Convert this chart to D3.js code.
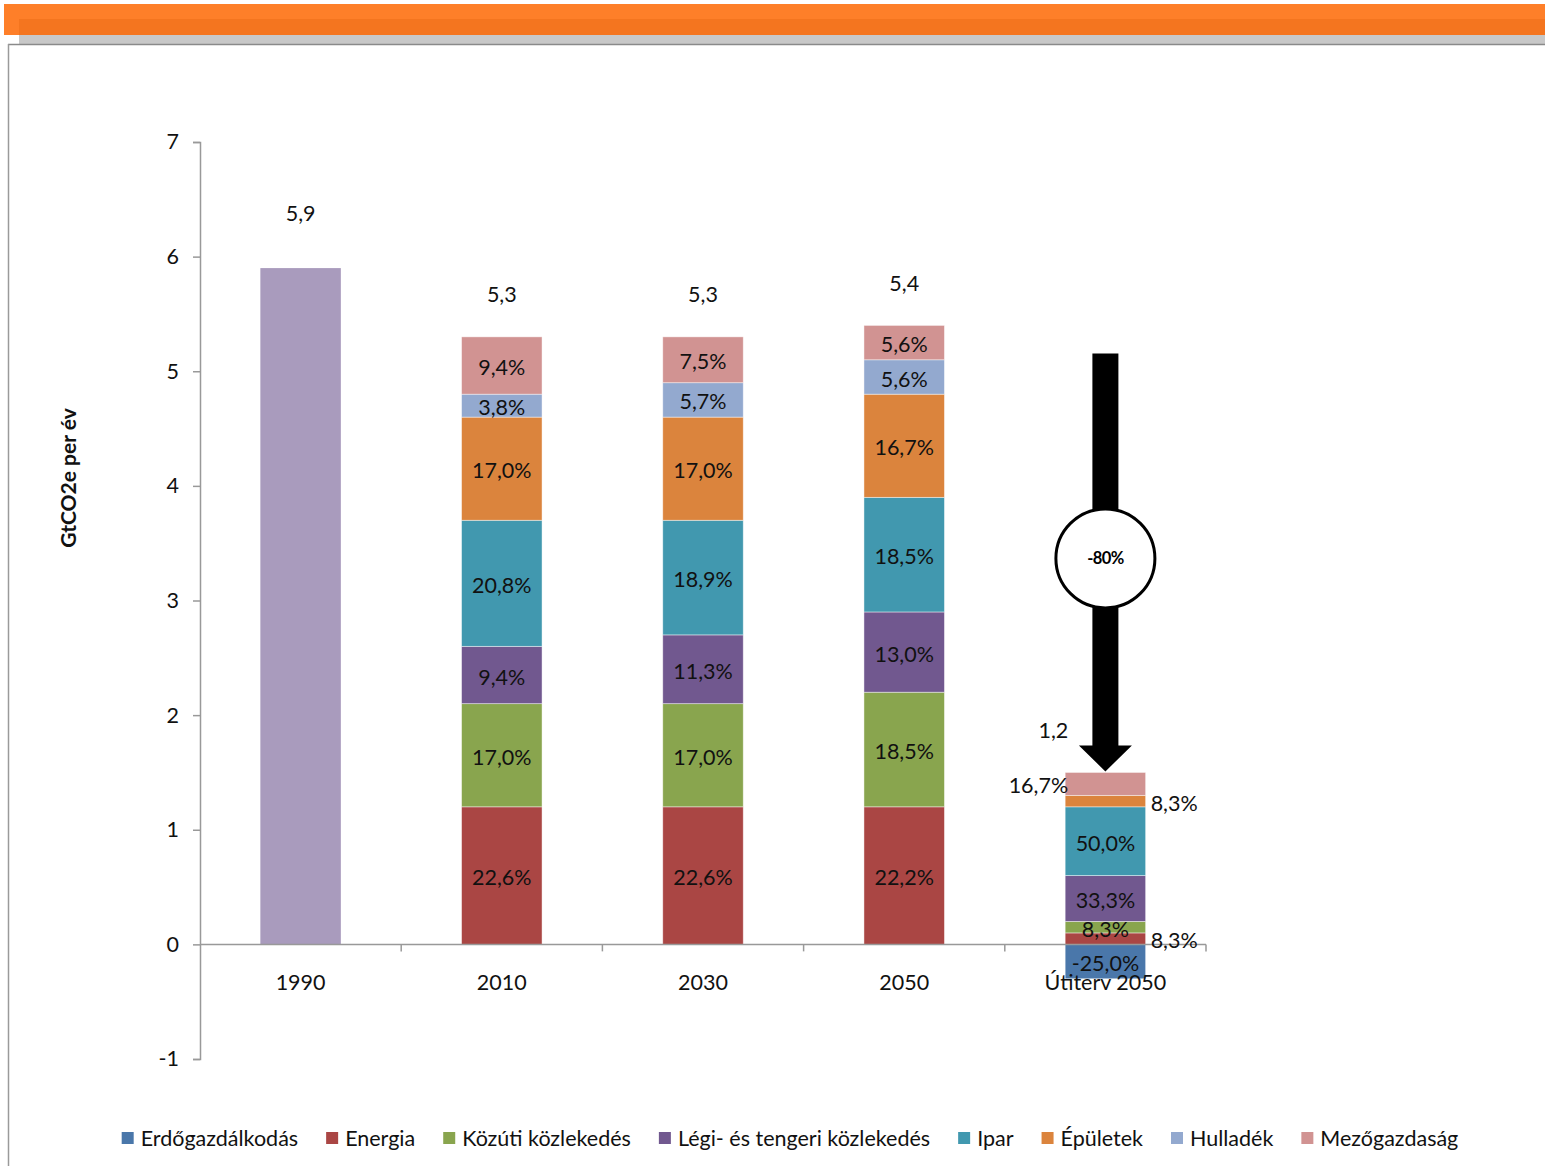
<!DOCTYPE html>
<html>
<head>
<meta charset="utf-8">
<script src="https://cdn.jsdelivr.net/npm/d3@7"></script>
<style>
  html, body { margin: 0; padding: 0; background: #fff; }
  svg { display: block; font-family: Lato, "Open Sans", sans-serif; }
</style>
</head>
<body>
<svg id="chart" width="1545" height="1166"></svg>
<script>
// Categories along the x axis
const categories = ["1990", "2010", "2030", "2050", "Útiterv 2050"];

// Emission sectors (stack order, bottom to top)
const sectors = ["Erdőgazdálkodás", "Energia", "Közúti közlekedés", "Légi- és tengeri közlekedés",
                 "Ipar", "Épületek", "Hulladék", "Mezőgazdaság"];
const sectorColors = ["#4A77AA", "#AA4644", "#89A54E", "#71588F", "#4198AF", "#DB843D", "#93A9CF", "#D19392"];

// Sector values, GtCO2e per year (one entry per category; 1990 has only a total)
const erdogazdalkodas = [0, 0, 0, 0, -0.3];
const energia         = [0, 1.2, 1.2, 1.2, 0.1];
const kozuti          = [0, 0.9, 0.9, 1.0, 0.1];
const legiTengeri     = [0, 0.5, 0.6, 0.7, 0.4];
const ipar            = [0, 1.1, 1.0, 1.0, 0.6];
const epuletek        = [0, 0.9, 0.9, 0.9, 0.1];
const hulladek        = [0, 0.2, 0.3, 0.3, 0];
const mezogazdasag    = [0, 0.5, 0.4, 0.3, 0.2];
const series = [erdogazdalkodas, energia, kozuti, legiTengeri, ipar, epuletek, hulladek, mezogazdasag];

// 1990 baseline total (unsplit)
const total1990 = [5.9, 0, 0, 0, 0];
const color1990 = "#A99BBD";

const yTicks = [-1, 0, 1, 2, 3, 4, 5, 6, 7];
const reductionLabel = "-80%";
const yTitle = "GtCO2e per év";

const svg = d3.select("#chart");
const fmt1 = v => d3.format(".1f")(v).replace(".", ",").replace("\u2212", "-");
const fontMain = "Lato, 'Open Sans', sans-serif";
const fontSize = 21.5;
const axisColor = "#999";
const textColor = "#111";

// ---- page frame ----
svg.append("rect").attr("x", 4).attr("y", 4).attr("width", 1541).attr("height", 31).attr("fill", "#FE7F29");
svg.append("rect").attr("x", 19).attr("y", 19).attr("width", 1526).attr("height", 16).attr("fill", "#F4751F");
svg.append("rect").attr("x", 19).attr("y", 35).attr("width", 1526).attr("height", 9).attr("fill", "#C8C8C8");
svg.append("line").attr("x1", 8).attr("x2", 1545).attr("y1", 44.5).attr("y2", 44.5).attr("stroke", "#8a8a8a").attr("stroke-width", 1.5);
svg.append("line").attr("x1", 8.5).attr("x2", 8.5).attr("y1", 44).attr("y2", 1166).attr("stroke", "#9a9a9a").attr("stroke-width", 1.5);

// ---- scales ----
const x = d3.scaleBand().domain(categories).range([200, 1206]).padding(0);
const barW = x.bandwidth() / 2.5;
const cx = c => x(c) + x.bandwidth() / 2;
const y = d3.scaleLinear().domain([-1, 7]).range([1059, 142]);

// ---- y axis ----
const yAxis = svg.append("g").attr("transform", "translate(200,0)")
  .call(d3.axisLeft(y).tickValues(yTicks).tickSize(7).tickPadding(14).tickFormat(d => String(d)));
yAxis.select(".domain").attr("stroke", axisColor).attr("stroke-width", 1.5);
yAxis.selectAll(".tick line").attr("stroke", axisColor).attr("stroke-width", 1.5);
yAxis.selectAll(".tick text").attr("font-size", fontSize).attr("fill", textColor).attr("font-family", fontMain);

svg.append("text")
  .attr("transform", `translate(76,478) rotate(-90)`)
  .attr("text-anchor", "middle")
  .attr("font-size", 21).attr("font-weight", "bold").attr("fill", textColor)
  .attr("font-family", fontMain)
  .text(yTitle);

// ---- stacked data ----
const rows = categories.map((c, i) => {
  const r = { category: c };
  sectors.forEach((s, k) => { r[s] = series[k][i]; });
  return r;
});
const stacked = d3.stack().keys(sectors).offset(d3.stackOffsetDiverging)(rows);

// 1990 bar
svg.append("g").selectAll("rect").data(categories.filter((c, i) => total1990[i] > 0))
  .join("rect")
  .attr("x", c => cx(c) - barW / 2)
  .attr("width", barW)
  .attr("y", c => y(total1990[categories.indexOf(c)]))
  .attr("height", c => y(0) - y(total1990[categories.indexOf(c)]))
  .attr("fill", color1990);

// stacked segments
const segG = svg.append("g");
stacked.forEach((layer, k) => {
  segG.append("g").selectAll("rect")
    .data(layer.filter(d => d[1] - d[0] !== 0))
    .join("rect")
    .attr("x", d => cx(d.data.category) - barW / 2)
    .attr("width", barW)
    .attr("y", d => y(Math.max(d[0], d[1])))
    .attr("height", d => Math.abs(y(d[0]) - y(d[1])))
    .attr("fill", sectorColors[k])
    .attr("stroke", "rgba(255,255,255,0.55)")
    .attr("stroke-width", 0.8);
});

// ---- x axis ----
const xAxisG = svg.append("g");
xAxisG.append("line").attr("x1", 200).attr("x2", 1206).attr("y1", y(0)).attr("y2", y(0))
  .attr("stroke", axisColor).attr("stroke-width", 1.5);
xAxisG.selectAll("line.tick").data(categories.slice(1).concat(["__end"]))
  .join("line").attr("class", "tick")
  .attr("x1", c => c === "__end" ? 1206 : x(c)).attr("x2", c => c === "__end" ? 1206 : x(c))
  .attr("y1", y(0)).attr("y2", y(0) + 7)
  .attr("stroke", axisColor).attr("stroke-width", 1.5);

// x category labels
svg.append("g").selectAll("text").data(categories).join("text")
  .attr("x", c => cx(c)).attr("y", y(0) + 38).attr("dy", "0.35em")
  .attr("text-anchor", "middle")
  .attr("font-family", fontMain).attr("font-size", fontSize).attr("fill", textColor)
  .text(c => c);

// ---- percentage labels ----
const totals = categories.map((c, i) => d3.sum(series, s => s[i]));
// small segments of the last bar are labelled beside the bar
const sideLabels = { "Mezőgazdaság": "left", "Épületek": "right", "Energia": "right" };
const labG = svg.append("g").attr("font-family", fontMain).attr("font-size", fontSize).attr("fill", textColor);
stacked.forEach((layer, k) => {
  layer.forEach((d, i) => {
    const v = d[1] - d[0];
    if (v === 0) return;
    const value = series[k][i];
    const pct = fmt1(value / totals[i] * 100) + "%";
    const midY = y((d[0] + d[1]) / 2);
    const c = d.data.category;
    let tx = cx(c), anchor = "middle";
    const side = (i === categories.length - 1) ? sideLabels[sectors[k]] : undefined;
    if (side === "left") { tx = cx(c) - barW / 2 + 3; anchor = "end"; }
    if (side === "right") { tx = cx(c) + barW / 2 + 5; anchor = "start"; }
    labG.append("text")
      .attr("x", tx).attr("y", midY + 2).attr("dy", "0.35em")
      .attr("text-anchor", anchor)
      .text(pct);
  });
});

// ---- total labels ----
const totalG = svg.append("g").attr("font-family", fontMain).attr("font-size", fontSize).attr("fill", textColor);
categories.forEach((c, i) => {
  const tot = total1990[i] > 0 ? total1990[i] : totals[i];
  const top = total1990[i] > 0 ? total1990[i] : d3.sum(series, s => Math.max(0, s[i]));
  const last = i === categories.length - 1;
  const off = total1990[i] > 0 ? 55 : 42;
  totalG.append("text")
    .attr("x", last ? cx(c) - 52 : cx(c))
    .attr("y", y(top) - off).attr("dy", "0.35em")
    .attr("text-anchor", "middle")
    .text(fmt1(tot));
});

// ---- reduction arrow ----
const lastCat = categories[categories.length - 1];
const ax = cx(lastCat);
const lastTop = d3.sum(series, s => Math.max(0, s[categories.length - 1]));
const tipY = y(lastTop) - 1;
const shaftTop = y(5.4) + 28;
const headH = 26, headHalf = 26.5, shaftHalf = 13;
svg.append("path")
  .attr("d", `M${ax - shaftHalf},${shaftTop} L${ax + shaftHalf},${shaftTop} L${ax + shaftHalf},${tipY - headH}
              L${ax + headHalf},${tipY - headH} L${ax},${tipY} L${ax - headHalf},${tipY - headH}
              L${ax - shaftHalf},${tipY - headH} Z`)
  .attr("fill", "#000");
const circY = (shaftTop + tipY) / 2 - 4;
svg.append("circle").attr("cx", ax).attr("cy", circY).attr("r", 49.5)
  .attr("fill", "#fff").attr("stroke", "#000").attr("stroke-width", 3);
svg.append("text").attr("x", ax).attr("y", circY).attr("dy", "0.35em")
  .attr("text-anchor", "middle").attr("font-family", fontMain)
  .attr("font-size", 16.5).attr("font-weight", "bold").attr("letter-spacing", -0.6)
  .attr("fill", "#000").text(reductionLabel);

// ---- legend ----
const legend = svg.append("g").attr("font-family", fontMain).attr("font-size", 21.5).attr("fill", textColor);
const items = [];
let lx = 0;
const gap = 28;
sectors.forEach((s, k) => {
  const g = legend.append("g");
  g.append("rect").attr("x", 0).attr("y", -6).attr("width", 12).attr("height", 12).attr("fill", sectorColors[k]);
  const t = g.append("text").attr("x", 19).attr("y", 0).attr("dy", "0.35em").text(s);
  const w = 19 + t.node().getComputedTextLength();
  items.push({ g, x: lx });
  lx += w + gap;
});
const legW = lx - gap;
const legStart = 790 - legW / 2;
items.forEach(it => it.g.attr("transform", `translate(${legStart + it.x},1138)`));
</script>
</body>
</html>
